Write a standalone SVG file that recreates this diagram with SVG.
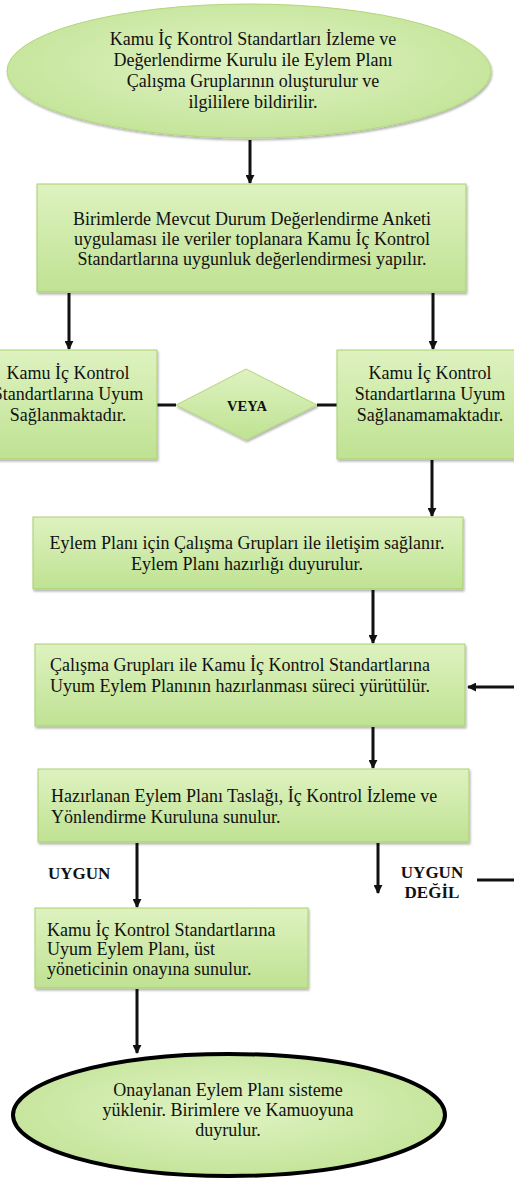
<svg xmlns="http://www.w3.org/2000/svg" width="514" height="1184" viewBox="0 0 514 1184" font-family="Liberation Serif, Times New Roman, serif">
<style>
text{font-family:'Liberation Serif','Times New Roman',serif}
.t{font-size:18px;fill:#111}
.c{text-anchor:middle}
.b{font-weight:bold;font-size:17px}
.v{font-weight:bold;font-size:14.5px}
.box{fill:url(#g);stroke:#a9cf70;stroke-width:1;filter:url(#sh)}
.ln{stroke:#111;stroke-width:3;fill:none}
.ar{stroke:#111;stroke-width:3;fill:none;marker-end:url(#ah)}
</style>
<defs>
<linearGradient id="g" x1="0" y1="0" x2="0" y2="1">
<stop offset="0" stop-color="#def2c0"/>
<stop offset="1" stop-color="#bfe292"/>
</linearGradient>
<radialGradient id="rg" cx="0.5" cy="0.45" r="0.6">
<stop offset="0" stop-color="#e0f3c4"/>
<stop offset="1" stop-color="#c2e396"/>
</radialGradient>
<filter id="sh" x="-5%" y="-5%" width="110%" height="115%">
<feDropShadow dx="1" dy="2" stdDeviation="1.2" flood-color="#000" flood-opacity="0.3"/>
</filter>
<marker id="ah" viewBox="0 0 10 10" refX="9" refY="5" markerWidth="3" markerHeight="3" orient="auto" markerUnits="strokeWidth">
<path d="M0,0 L10,5 L0,10 Z" fill="#111"/>
</marker>
</defs>
<rect width="514" height="1184" fill="#fff"/>

<g id="connectors">
<line class="ar" x1="250" y1="140" x2="250" y2="183"/>
<line class="ar" x1="69" y1="293" x2="69" y2="349"/>
<line class="ar" x1="433" y1="293" x2="433" y2="349"/>
<line class="ln" x1="157" y1="405" x2="176" y2="405"/>
<line class="ln" x1="317" y1="405" x2="337" y2="405"/>
<line class="ar" x1="432" y1="460" x2="432" y2="516"/>
<line class="ar" x1="373" y1="590" x2="373" y2="643"/>
<line class="ar" x1="514" y1="687" x2="468" y2="687"/>
<line class="ar" x1="373" y1="727" x2="373" y2="768"/>
<line class="ar" x1="137" y1="843" x2="137" y2="907"/>
<line class="ar" x1="378" y1="843" x2="378" y2="893"/>
<line class="ln" x1="477" y1="880" x2="514" y2="880"/>
<line class="ar" x1="137" y1="989" x2="137" y2="1053"/>
</g>

<g id="n1">
<ellipse cx="249" cy="71" rx="242" ry="67" fill="url(#rg)" stroke="#b3d67c" stroke-width="1" filter="url(#sh)"/>
<text class="t c" x="253" y="45">Kamu İç Kontrol Standartları İzleme ve</text>
<text class="t c" x="253" y="66">Değerlendirme Kurulu ile Eylem Planı</text>
<text class="t c" x="253" y="87">Çalışma Gruplarının oluşturulur ve</text>
<text class="t c" x="253" y="108">ilgililere bildirilir.</text>
</g>

<g id="n2">
<rect class="box" x="37" y="184" width="429" height="108"/>
<text class="t c" x="252" y="225">Birimlerde Mevcut Durum Değerlendirme Anketi</text>
<text class="t c" x="252" y="245">uygulaması ile veriler toplanara Kamu İç Kontrol</text>
<text class="t c" x="252" y="265">Standartlarına uygunluk değerlendirmesi yapılır.</text>
</g>

<g id="n3">
<rect class="box" x="-20" y="350" width="177" height="109"/>
<text class="t c" x="68" y="379">Kamu İç Kontrol</text>
<text class="t c" x="68" y="400">Standartlarına Uyum</text>
<text class="t c" x="68" y="421">Sağlanmaktadır.</text>
</g>

<g id="n4">
<polygon points="176,405 246,369 317,405 246,440" fill="url(#g)" stroke="#b3d67c" stroke-width="1" filter="url(#sh)"/>
<text class="t c v" x="247" y="411">VEYA</text>
</g>

<g id="n5">
<rect class="box" x="337" y="350" width="190" height="109"/>
<text class="t c" x="430" y="379">Kamu İç Kontrol</text>
<text class="t c" x="430" y="400">Standartlarına Uyum</text>
<text class="t c" x="430" y="421">Sağlanamamaktadır.</text>
</g>

<g id="n6">
<rect class="box" x="33" y="517" width="430" height="72"/>
<text class="t c" x="247" y="549">Eylem Planı için Çalışma Grupları ile iletişim sağlanır.</text>
<text class="t c" x="247" y="570">Eylem Planı hazırlığı duyurulur.</text>
</g>

<g id="n7">
<rect class="box" x="35" y="644" width="430" height="82"/>
<text class="t" x="50" y="671">Çalışma Grupları ile Kamu İç Kontrol Standartlarına</text>
<text class="t" x="50" y="692">Uyum Eylem Planının hazırlanması süreci yürütülür.</text>
</g>

<g id="n8">
<rect class="box" x="38" y="769" width="431" height="73"/>
<text class="t" x="51" y="802">Hazırlanan Eylem Planı Taslağı, İç Kontrol İzleme ve</text>
<text class="t" x="51" y="823">Yönlendirme Kuruluna sunulur.</text>
</g>

<g id="labels">
<text class="t b" x="48" y="879">UYGUN</text>
<text class="t c b" x="432" y="878">UYGUN</text>
<text class="t c b" x="432" y="898">DEĞİL</text>
</g>

<g id="n9">
<rect class="box" x="35" y="908" width="273" height="80"/>
<text class="t" x="47" y="936">Kamu İç Kontrol Standartlarına</text>
<text class="t" x="47" y="955">Uyum Eylem Planı, üst</text>
<text class="t" x="47" y="975">yöneticinin onayına sunulur.</text>
</g>

<g id="n10">
<ellipse cx="229" cy="1115" rx="216" ry="61" fill="url(#rg)" stroke="#000" stroke-width="4"/>
<text class="t c" x="228" y="1096">Onaylanan Eylem Planı sisteme</text>
<text class="t c" x="228" y="1116">yüklenir. Birimlere ve Kamuoyuna</text>
<text class="t c" x="228" y="1136">duyrulur.</text>
</g>
</svg>
